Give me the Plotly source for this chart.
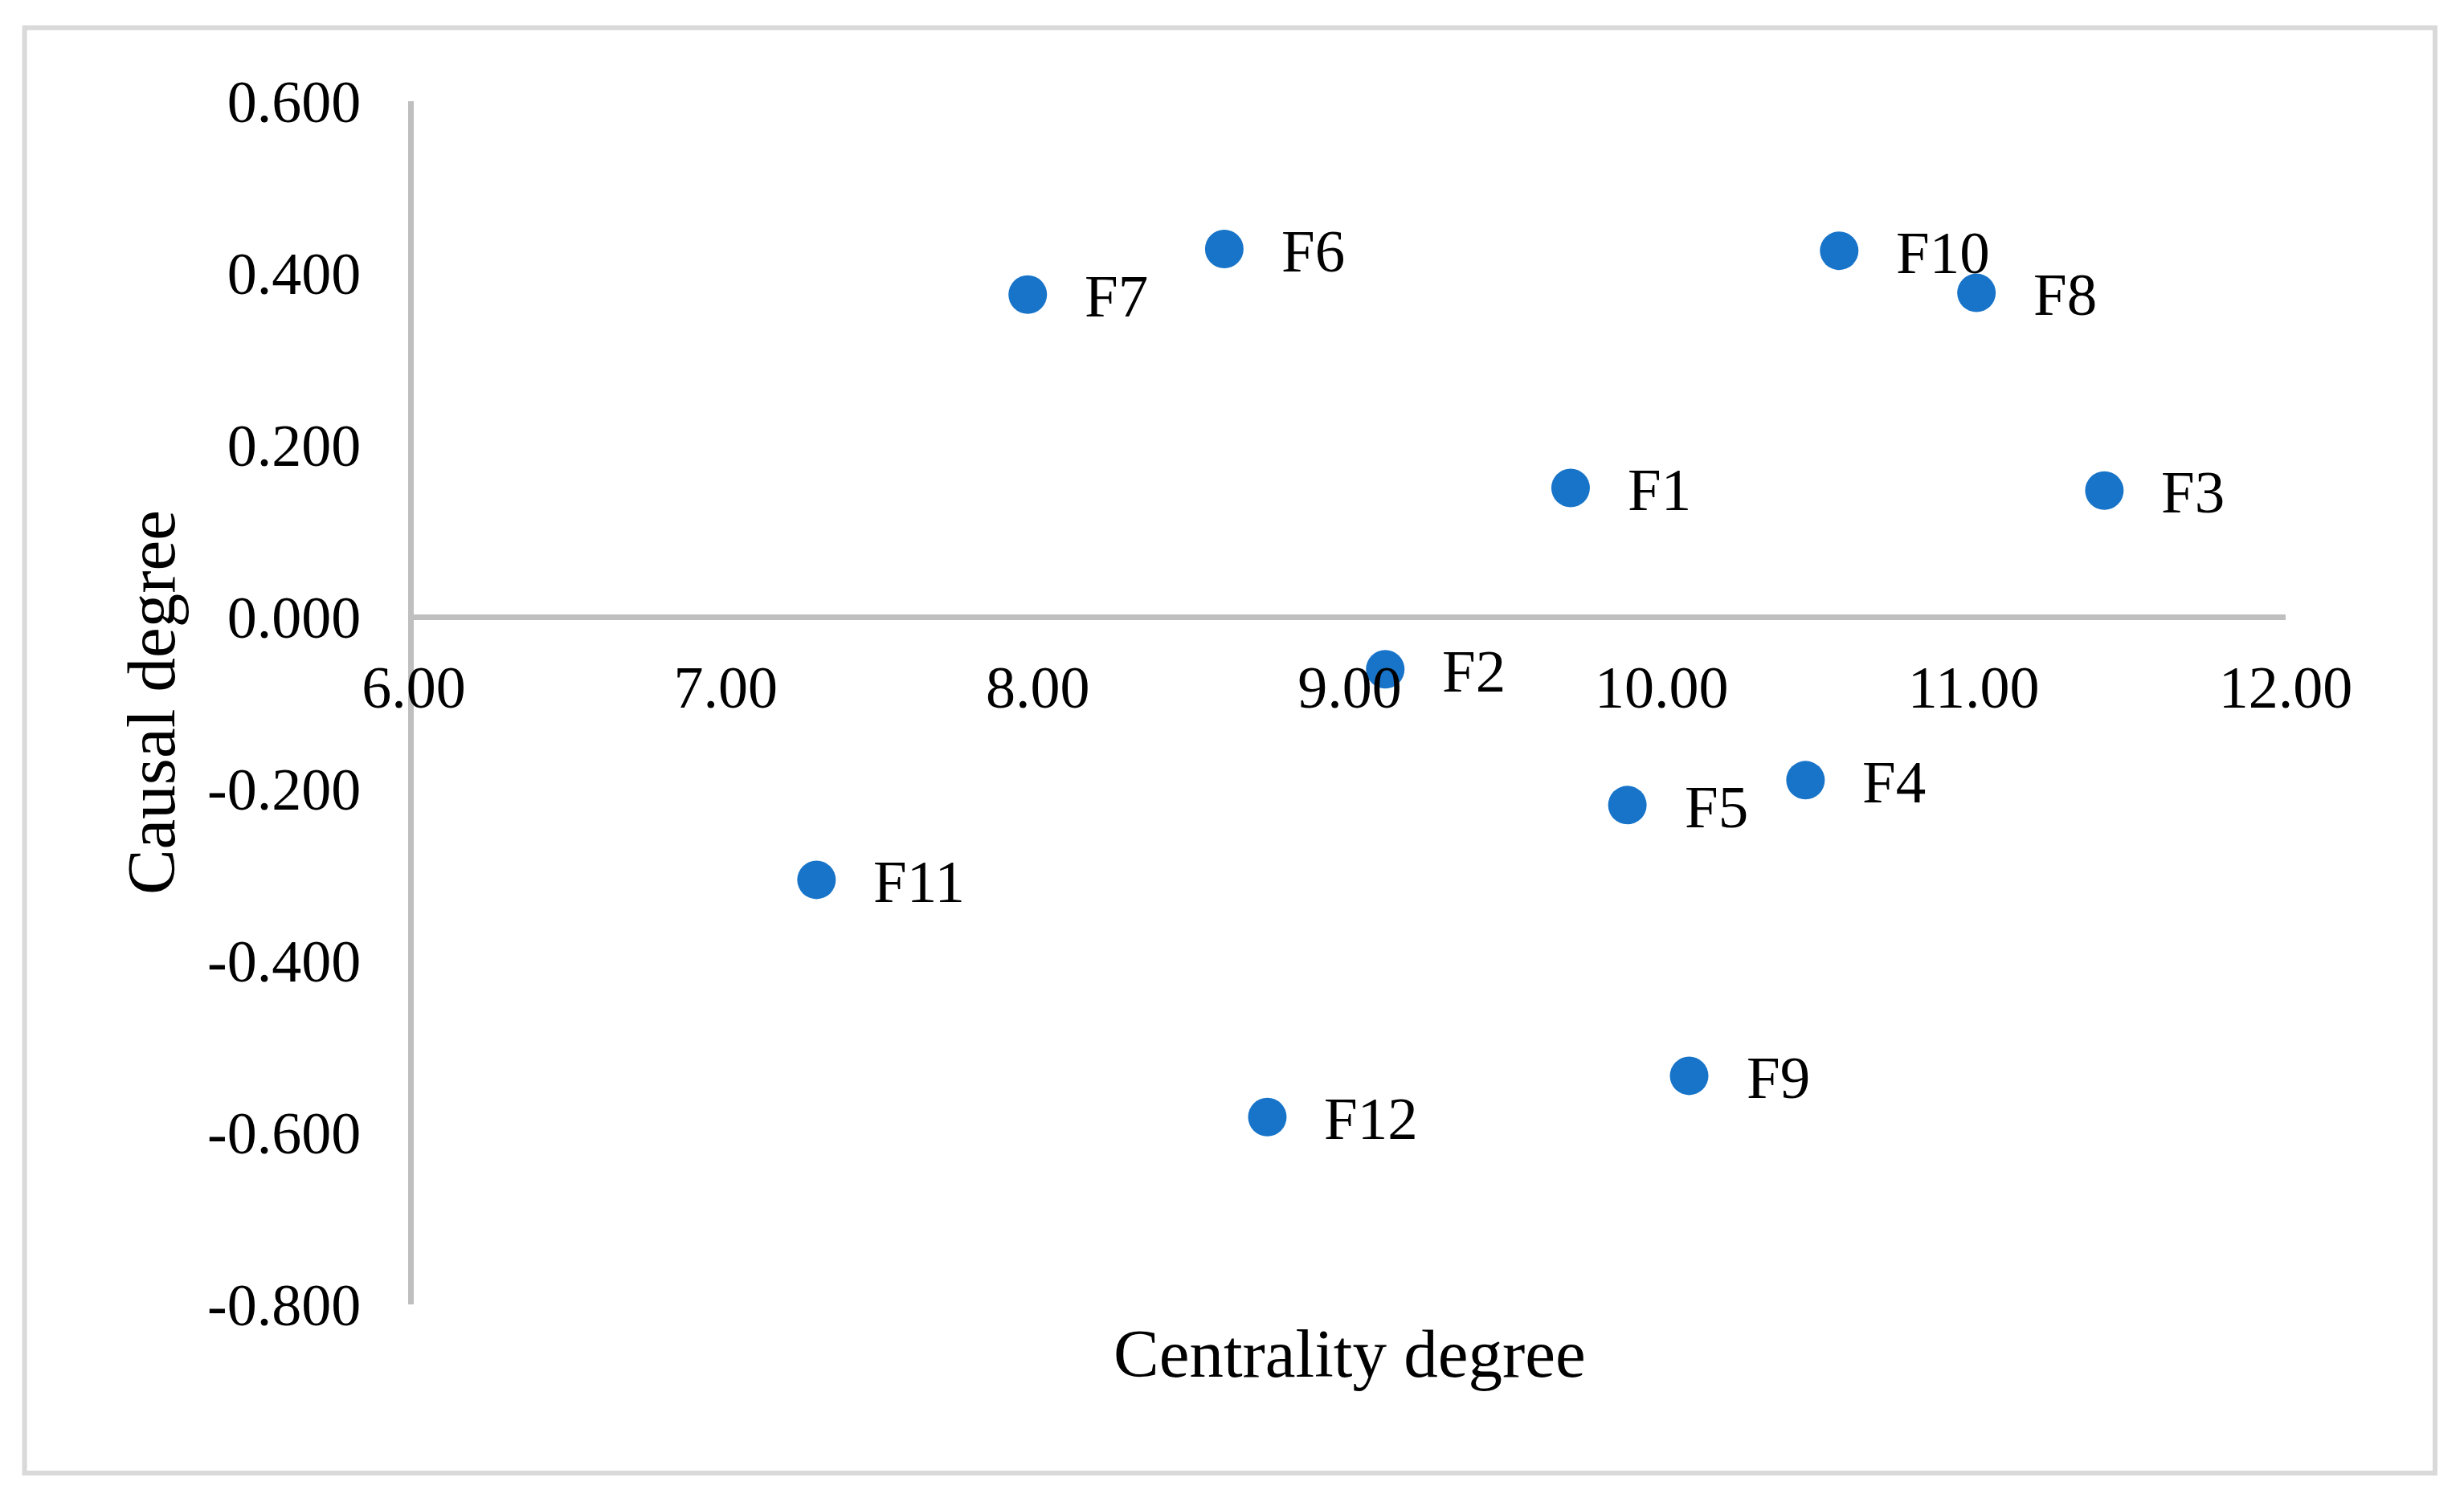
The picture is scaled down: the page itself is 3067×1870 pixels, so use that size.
import plotly.graph_objects as go

# ---- data ----
factors = ["F1", "F2", "F3", "F4", "F5", "F6", "F7", "F8", "F9", "F10", "F11", "F12"]
centrality = [9.708, 9.114, 11.419, 10.461, 9.890, 8.598, 7.968, 11.009, 10.088, 10.569, 7.291, 8.736]
causal = [0.150, -0.061, 0.147, -0.190, -0.219, 0.428, 0.375, 0.377, -0.534, 0.426, -0.306, -0.582]

x_tickvals = [6, 7, 8, 9, 10, 11, 12]
x_ticktext = ["6.00", "7.00", "8.00", "9.00", "10.00", "11.00", "12.00"]
y_tickvals = [-0.8, -0.6, -0.4, -0.2, 0.0, 0.2, 0.4, 0.6]
y_ticktext = ["-0.800", "-0.600", "-0.400", "-0.200", "0.000", "0.200", "0.400", "0.600"]

x_title = "Centrality degree"
y_title = "Causal degree"

FONT = "Liberation Serif, Times New Roman, serif"
AXIS_GREY = "#bfbfbf"
BORDER_GREY = "#d9d9d9"
DOT = "#1874C9"

fig = go.Figure()
fig.add_trace(go.Scatter(
    x=centrality, y=causal, mode="markers",
    marker=dict(size=48, color=DOT, line=dict(width=0)),
    cliponaxis=False, showlegend=False, hoverinfo="skip",
))

annotations = []
for name, xv, yv in zip(factors, centrality, causal):
    annotations.append(dict(
        x=xv, y=yv, xref="x", yref="y", text=name, showarrow=False,
        xanchor="left", yanchor="middle", xshift=69, yshift=-2,
        font=dict(family=FONT, size=75, color="black"),
    ))

annotations.append(dict(
    x=0.5, y=-0.0406, xref="paper", yref="paper", text=x_title, showarrow=False,
    xanchor="center", yanchor="middle", font=dict(family=FONT, size=85, color="black"),
))
annotations.append(dict(
    x=-0.1403, y=0.5, xref="paper", yref="paper", text=y_title, showarrow=False,
    textangle=-90, xanchor="center", yanchor="middle",
    font=dict(family=FONT, size=85, color="black"),
))

fig.update_layout(
    width=3067, height=1870, autosize=False,
    margin=dict(l=515, r=222, t=126, b=246, pad=0),
    paper_bgcolor="white", plot_bgcolor="white",
    font=dict(family=FONT, color="black"),
    annotations=annotations,
    shapes=[dict(
        type="rect", xref="paper", yref="paper",
        x0=-0.2079, x1=1.0798, y0=-0.1402, y1=1.0611,
        line=dict(color=BORDER_GREY, width=6), fillcolor="rgba(0,0,0,0)", layer="below",
    )],
    xaxis=dict(
        range=[6, 12], tickmode="array", tickvals=x_tickvals, ticktext=x_ticktext,
        showgrid=False, zeroline=False, showline=True, linecolor=AXIS_GREY, linewidth=7,
        ticks="", anchor="free", position=0.8 / 1.4,
        tickfont=dict(family=FONT, size=74, color="black"), ticklabelstandoff=20,
    ),
    yaxis=dict(
        range=[-0.8, 0.6], tickmode="array", tickvals=y_tickvals, ticktext=y_ticktext,
        showgrid=False, zeroline=False, showline=True, linecolor=AXIS_GREY, linewidth=7,
        ticks="", tickfont=dict(family=FONT, size=74, color="black"), ticklabelstandoff=44,
    ),
)

fig.write_html("out.html", config={"displayModeBar": False},
               post_script="document.body.style.margin='0';document.body.style.overflow='hidden';")
